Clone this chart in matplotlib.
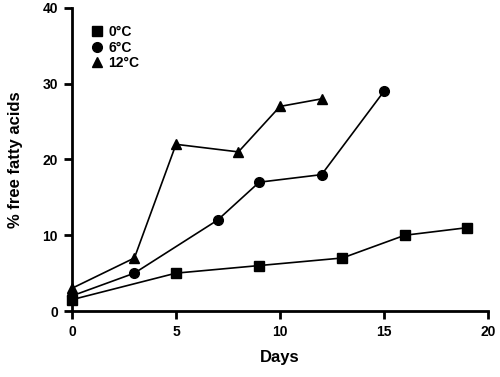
import matplotlib.pyplot as plt

plt.rcParams['font.family'] = ['Liberation Sans', 'DejaVu Sans']
plt.rcParams['font.weight'] = 'bold'

days_0 = [0, 5, 9, 13, 16, 19]
ffa_0 = [1.5, 5, 6, 7, 10, 11]
days_6 = [0, 3, 7, 9, 12, 15]
ffa_6 = [2, 5, 12, 17, 18, 29]
days_12 = [0, 3, 5, 8, 10, 12]
ffa_12 = [3, 7, 22, 21, 27, 28]

fig = plt.figure(figsize=(5, 3.77), dpi=100)
ax = fig.add_axes([0.144, 0.175, 0.832, 0.804])

ax.plot(days_0, ffa_0, marker='s', color='black', lw=1.2, ms=6.5, label='0°C', clip_on=False)
ax.plot(days_6, ffa_6, marker='o', color='black', lw=1.2, ms=7, label='6°C', clip_on=False)
ax.plot(days_12, ffa_12, marker='^', color='black', lw=1.2, ms=7, label='12°C', clip_on=False)

ax.set_xlim(0, 20)
ax.set_ylim(0, 40)
ax.set_xticks([0, 5, 10, 15, 20])
ax.set_yticks([0, 10, 20, 30, 40])
for s in ['top', 'right']:
    ax.spines[s].set_visible(False)
for s in ['left', 'bottom']:
    ax.spines[s].set_linewidth(2)
ax.tick_params(width=2, length=6, labelsize=10, pad=4)
for lab in ax.get_xticklabels() + ax.get_yticklabels():
    lab.set_fontweight('bold')

ax.set_xlabel('Days', fontsize=12, fontweight='bold', labelpad=8)
ax.set_ylabel('% free fatty acids', fontsize=12, fontweight='bold', labelpad=14)

leg = ax.legend(loc='upper left', bbox_to_anchor=(0.03, 0.985), frameon=False,
                handlelength=0, handletextpad=0.8, labelspacing=0.12,
                prop={'weight': 'bold', 'size': 10})

fig.savefig('out.png', dpi=100)
